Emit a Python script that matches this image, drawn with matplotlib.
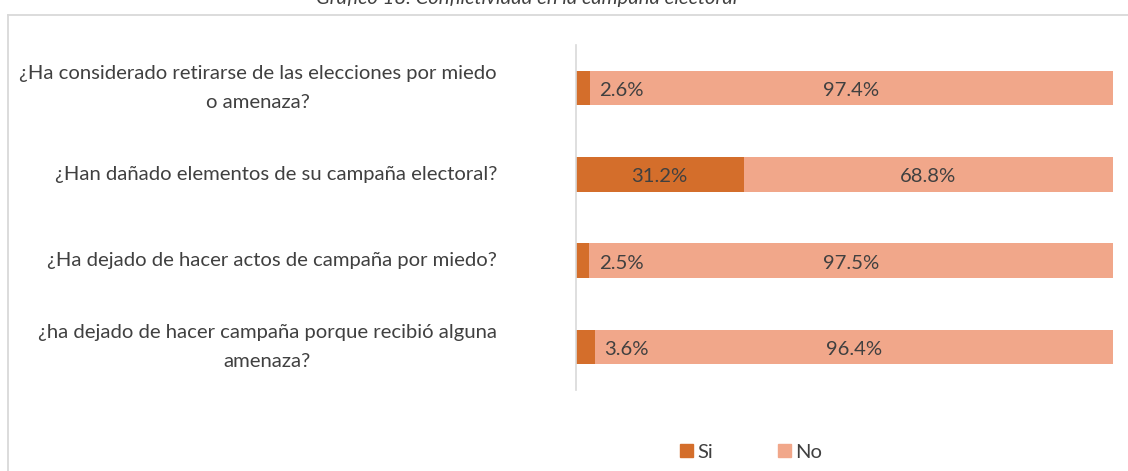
import matplotlib

matplotlib.use("Agg")
import matplotlib.pyplot as plt
import matplotlib.transforms as mtrans
from matplotlib.lines import Line2D
from matplotlib.patches import Patch

plt.rcParams["font.family"] = ["Lato", "DejaVu Sans"]

# data
questions = [
    "¿Ha considerado retirarse de las elecciones por miedo\no amenaza?",
    "¿Han dañado elementos de su campaña electoral?",
    "¿Ha dejado de hacer actos de campaña por miedo?",
    "¿ha dejado de hacer campaña porque recibió alguna\namenaza?",
]
si = [2.6, 31.2, 2.5, 3.6]
no = [97.4, 68.8, 97.5, 96.4]
series_names = ["Si", "No"]
title = "Gráfico 18. Conflictividad en la campaña electoral"

C_SI = "#D46E2B"
C_NO = "#F1A78A"
TXT = "#404040"
GRID = "#D9D9D9"
FS = 14.6

fig = plt.figure(figsize=(11.28, 4.71), dpi=100)
W, H = 1128, 471
ax = fig.add_axes([576 / W, 1 - 390 / H, (1113 - 576) / W, (390 - 45) / H])

ypos = list(range(len(questions)))
ax.barh(ypos, si, height=0.4, color=C_SI)
ax.barh(ypos, no, left=si, height=0.4, color=C_NO)

for y, s, n in zip(ypos, si, no):
    yt = y + 0.03
    if s > 10:
        ax.text(s / 2, yt, f"{s:.1f}%", ha="center", va="center", fontsize=FS, color=TXT)
    else:
        ax.text(s + 1.7, yt, f"{s:.1f}%", ha="left", va="center", fontsize=FS, color=TXT)
    ax.text(s + n / 2, yt, f"{n:.1f}%", ha="center", va="center", fontsize=FS, color=TXT)

ax.set_xlim(0, 100)
ax.set_ylim(3.5, -0.5)
ax.set_yticks(ypos)
ax.set_yticklabels([])
ax.tick_params(axis="y", length=0)
ax.set_xticks([])
for side in ["top", "right", "bottom"]:
    ax.spines[side].set_visible(False)
ax.spines["left"].set_color(GRID)
ax.spines["left"].set_linewidth(1.2)

# category labels, right-aligned left of the axis
ytrans = ax.get_yaxis_transform()
tr = ytrans + mtrans.ScaledTranslation(-79 / 100, 0, fig.dpi_scale_trans)
for y, q in zip(ypos, questions):
    ax.text(0, y, q, transform=tr, ha="right", va="center", multialignment="center",
            linespacing=1.85, fontsize=FS, color=TXT)

# frame of the chart area (cropped on the right and bottom)
fig.add_artist(Line2D([8 / W, 1], [1 - 15 / H] * 2, color=GRID, lw=1.3))
fig.add_artist(Line2D([8 / W] * 2, [0, 1 - 15 / H], color=GRID, lw=1.3))

# title, cut off at the top edge as in the source
fig.text(527 / W, 1 - 4 / H, title, ha="center", va="baseline", fontsize=FS,
         style="italic", color=TXT)

handles = [Patch(color=C_SI), Patch(color=C_NO)]
fig.legend(handles, series_names, loc="center", bbox_to_anchor=(751 / W, 1 - 452 / H),
           ncol=2, frameon=False, fontsize=FS, labelcolor=TXT,
           handlelength=0.65, handleheight=0.65, handletextpad=0.2, columnspacing=3.2)

fig.savefig("out.png", dpi=100)
